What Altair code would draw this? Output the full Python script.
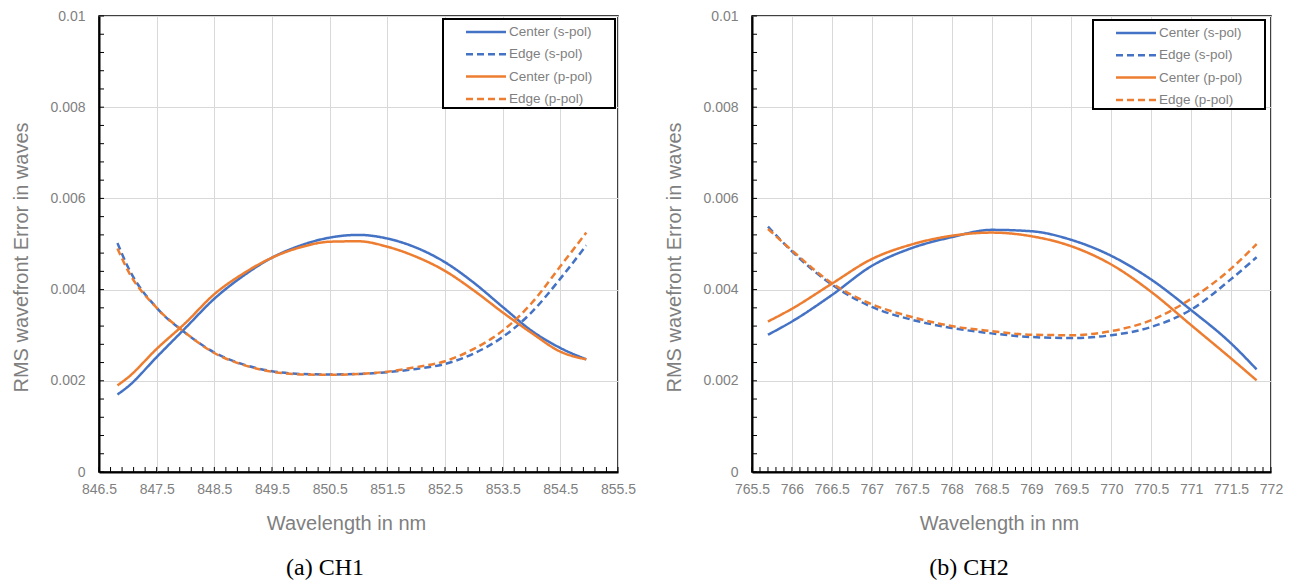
import altair as alt
import pandas as pd
import numpy as np

SERIES = ["Center (s-pol)", "Edge (s-pol)", "Center (p-pol)", "Edge (p-pol)"]
COLORS = ["#4472C4", "#4472C4", "#ED7D31", "#ED7D31"]
DASHES = [[1, 0], [7, 4], [1, 0], [7, 4]]

# ---- CH1 ----
ch1_wl = [846.82, 847.0, 847.5, 848.0, 848.5, 849.0, 849.5, 850.0, 850.5,
          851.0, 851.5, 852.0, 852.5, 853.0, 853.5, 854.0, 854.5, 854.95]
ch1_center_s = [0.00170, 0.00187, 0.00252, 0.00316, 0.00380, 0.00430, 0.00470, 0.00497, 0.00514,
                0.00520, 0.00512, 0.00492, 0.00460, 0.00415, 0.00362, 0.00310, 0.00272, 0.00247]
ch1_edge_s = [0.00502, 0.00450, 0.00360, 0.00305, 0.00262, 0.00236, 0.00221, 0.00215, 0.00214,
              0.00215, 0.00219, 0.00226, 0.00237, 0.00260, 0.00296, 0.00350, 0.00424, 0.00497]
ch1_center_p = [0.00190, 0.00207, 0.00270, 0.00327, 0.00390, 0.00435, 0.00470, 0.00493, 0.00505,
                0.00506, 0.00494, 0.00472, 0.00441, 0.00398, 0.00350, 0.00305, 0.00264, 0.00247]
ch1_edge_p = [0.00490, 0.00442, 0.00360, 0.00305, 0.00261, 0.00235, 0.00220, 0.00214, 0.00213,
              0.00215, 0.00220, 0.00230, 0.00243, 0.00270, 0.00310, 0.00370, 0.00451, 0.00525]

# ---- CH2 ----
ch2_wl = [765.7, 766.0, 766.5, 767.0, 767.5, 768.0, 768.5, 769.0, 769.5,
          770.0, 770.5, 771.0, 771.5, 771.82]
ch2_center_s = [0.00301, 0.00330, 0.00388, 0.00452, 0.00491, 0.00515, 0.00531, 0.00528, 0.00509,
                0.00474, 0.00422, 0.00355, 0.00282, 0.00225]
ch2_edge_s = [0.00538, 0.00484, 0.00411, 0.00362, 0.00334, 0.00316, 0.00304, 0.00296, 0.00294,
              0.00300, 0.00318, 0.00356, 0.00423, 0.00471]
ch2_center_p = [0.00330, 0.00358, 0.00413, 0.00467, 0.00499, 0.00518, 0.00525, 0.00517, 0.00495,
                0.00455, 0.00395, 0.00322, 0.00249, 0.00201]
ch2_edge_p = [0.00533, 0.00486, 0.00414, 0.00368, 0.00340, 0.00320, 0.00309, 0.00301, 0.00300,
              0.00309, 0.00333, 0.00380, 0.00446, 0.00500]

# axis tick values
Y_MAJOR = [0, 0.002, 0.004, 0.006, 0.008, 0.01]
Y_MINOR = [round(0.0004 * i, 4) for i in range(26)]
CH1_MAJOR = [846.5 + i for i in range(10)]
CH1_MINOR = [round(846.5 + 0.2 * i, 1) for i in range(46)]
CH2_MAJOR = [765.5 + 0.5 * i for i in range(14)]
CH2_MINOR = [round(765.5 + 0.1 * i, 1) for i in range(66)]

W, H = 519, 456
GRAY = "#7f7f7f"
PADCH = "\u2800"


def long_df(wl, series_vals):
    rows = []
    for name, vals in zip(SERIES, series_vals):
        for w, v in zip(wl, vals):
            rows.append({"wl": w, "val": v, "series": name})
    return pd.DataFrame(rows)


def panel(df, xdom, xmajor, xminor, caption, cap_dx, lx, ly):
    legend = alt.Legend(
        title=None, orient="none", legendX=lx, legendY=ly,
        symbolType="M1.053,0L5.263,0", symbolSize=361, symbolStrokeWidth=2.5,
        labelOffset=42, padding=2, rowPadding=4.3,
        strokeColor="black", fillColor="white",
        labelFont="Liberation Sans", labelFontSize=13.5, labelColor=GRAY,
        labelExpr="datum.label + '" + PADCH * 2 + "'",
    )
    xscale = alt.Scale(domain=xdom, nice=False, zero=False)
    yscale = alt.Scale(domain=[0, 0.01], nice=False)
    x_axis = alt.Axis(values=xmajor, format=".1~f", title="Wavelength in nm", grid=True,
                      ticks=False, tickSize=0, labelPadding=10, labelFlush=False,
                      labelOverlap=False, domainColor="black", domainWidth=2,
                      titleX=247, titleY=57, titleBaseline="alphabetic")
    y_axis = alt.Axis(values=Y_MAJOR, format=".3~f", title="RMS wavefront Error in waves",
                      grid=True, ticks=False, tickSize=0, labelPadding=14,
                      labelOverlap=False, domainColor="black", domainWidth=2,
                      titleX=-72, titleY=241, titleBaseline="alphabetic")
    lines = alt.Chart(df).mark_line(strokeWidth=2.5, interpolate="monotone").encode(
        x=alt.X("wl:Q", scale=xscale, axis=x_axis),
        y=alt.Y("val:Q", scale=yscale, axis=y_axis),
        color=alt.Color("series:N", scale=alt.Scale(domain=SERIES, range=COLORS), legend=legend),
        strokeDash=alt.StrokeDash("series:N", scale=alt.Scale(domain=SERIES, range=DASHES), legend=legend),
    )
    xt = alt.Chart(pd.DataFrame({"wl": xminor})).mark_rule(color="black", strokeWidth=1).encode(
        x=alt.X("wl:Q", scale=xscale, axis=x_axis),
        y=alt.value(H),
        y2=alt.value(H - 5),
    )
    yt = alt.Chart(pd.DataFrame({"val": Y_MINOR})).mark_rule(color="black", strokeWidth=1).encode(
        y=alt.Y("val:Q", scale=yscale, axis=y_axis),
        x=alt.value(0),
        x2=alt.value(5),
    )
    return alt.layer(lines, xt, yt).properties(
        width=W, height=H,
        title=alt.Title(caption, orient="bottom", anchor="middle", dx=cap_dx, offset=23,
                        font="Liberation Serif", fontSize=24, fontWeight="normal", color="black"),
    )


df1 = long_df(ch1_wl, [ch1_center_s, ch1_edge_s, ch1_center_p, ch1_edge_p])
df2 = long_df(ch2_wl, [ch2_center_s, ch2_edge_s, ch2_center_p, ch2_edge_p])

left = panel(df1, [846.5, 855.5], CH1_MAJOR, CH1_MINOR, "(a) CH1", -33.5, 344, 3)
right = panel(df2, [765.5, 772], CH2_MAJOR, CH2_MINOR, "(b) CH2", -42.5, 341, 4)

chart = alt.hconcat(left, right, spacing=26).resolve_scale(
    color="independent", strokeDash="independent"
).configure_view(
    stroke="black", strokeWidth=1.5
).configure_axis(
    labelFont="Liberation Sans", labelFontSize=14, labelColor=GRAY,
    titleFont="Liberation Sans", titleFontSize=20, titleColor=GRAY, titleFontWeight="normal",
    gridColor="#d9d9d9", gridWidth=1,
).configure_legend(
    strokeWidth=2
).properties(
    padding={"left": 10, "top": 8, "right": 5, "bottom": 0},
    background="white",
)

chart.save("out.html", embed_options={"renderer": "svg", "actions": False})
